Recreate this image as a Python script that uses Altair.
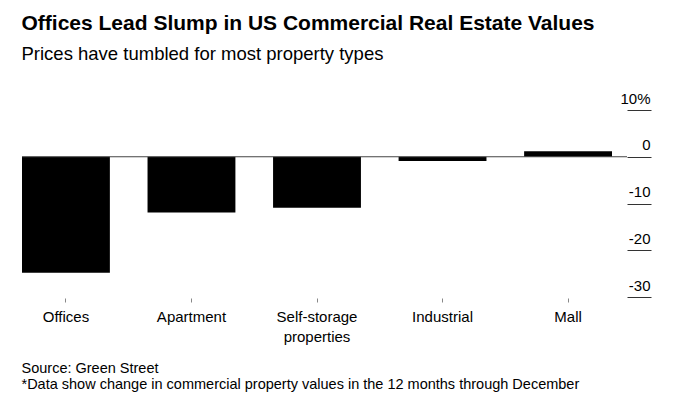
import altair as alt
import pandas as pd

categories = ["Offices", "Apartment", "Self-storage|properties", "Industrial", "Mall"]
values = [-24.8, -11.9, -10.9, -0.9, 1.2]
y_ticks = [-30, -20, -10, 0, 10]

df = pd.DataFrame({"type": categories, "change": values})

FONT = "Liberation Sans"

x = alt.X(
    "type:N",
    sort=categories,
    scale=alt.Scale(range=[0, 590], paddingInner=0.3, paddingOuter=0),
    axis=alt.Axis(
        title=None,
        domain=False,
        labelAngle=0,
        labelExpr="split(datum.label, '|')",
        labelFontSize=15,
        labelColor="#000000",
        labelPadding=7,
        labelLineHeight=20,
        labelFont=FONT,
        tickSize=4,
        tickColor="#888888",
        tickWidth=1,
        offset=1,
    ),
)

y = alt.Y(
    "change:Q",
    scale=alt.Scale(domain=[-30, 10], nice=False),
    axis=alt.Axis(
        orient="right",
        title=None,
        domain=False,
        grid=False,
        values=y_ticks,
        tickSize=24,
        tickColor="#333333",
        tickWidth=1,
        labelAlign="right",
        labelBaseline="bottom",
        labelPadding=-1,
        labelOffset=-4,
        labelFontSize=15,
        labelColor="#000000",
        labelFont=FONT,
        labelExpr="datum.value == 10 ? '10%' : '' + datum.value",
    ),
)

bars = alt.Chart(df).mark_bar(color="#000000").encode(x=x, y=y)

zero = alt.Chart(pd.DataFrame({"z": [0]})).mark_rule(color="#444444", strokeWidth=1).encode(
    y=alt.Y("z:Q", scale=alt.Scale(domain=[-30, 10], nice=False))
)

inner = alt.layer(bars, zero).properties(
    width=605,
    height=187,
    title=alt.TitleParams(
        text=["Source: Green Street",
              "*Data show change in commercial property values in the 12 months through December"],
        orient="bottom",
        anchor="start",
        fontSize=14.5,
        fontWeight="normal",
        font=FONT,
        color="#000000",
        lineHeight=16,
        offset=18,
    ),
)

chart = alt.vconcat(inner).properties(
    title=alt.TitleParams(
        text="Offices Lead Slump in US Commercial Real Estate Values",
        subtitle="Prices have tumbled for most property types",
        anchor="start",
        fontSize=21,
        fontWeight="bold",
        font=FONT,
        color="#000000",
        subtitleFontSize=18.5,
        subtitleFont=FONT,
        subtitleColor="#000000",
        subtitlePadding=11,
        offset=28,
    ),
    padding={"left": 13, "top": 4, "right": 5, "bottom": 5},
).configure_view(stroke=None)

chart.save("out.html", embed_options={"renderer": "svg", "actions": False})
